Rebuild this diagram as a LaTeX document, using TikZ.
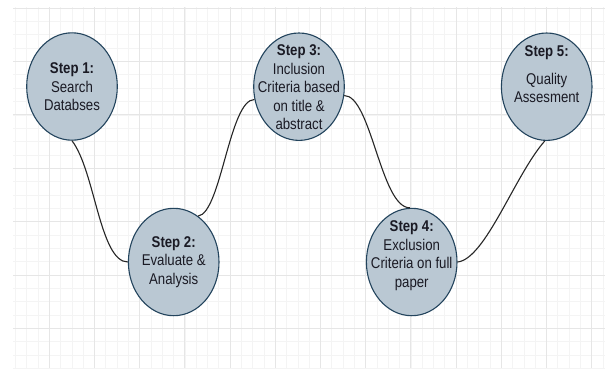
\documentclass[tikz,border=0pt]{standalone}
\usepackage{fontspec}
\setmainfont{Liberation Sans}
\usepackage{graphicx}
\usetikzlibrary{shapes.geometric}
\definecolor{stepfill}{HTML}{BAC8D3}
\definecolor{stepline}{HTML}{23445D}
\definecolor{gridminor}{HTML}{F4F4F4}
\definecolor{gridmajor}{HTML}{E6E6E6}
\definecolor{txtcol}{HTML}{1A1A24}
\newcommand{\vst}[1]{\scalebox{1}[1.18]{\fontsize{13.2}{15.7}\selectfont\begin{tabular}{@{}c@{}}#1\end{tabular}}}
\begin{document}
\begin{tikzpicture}[x=1pt,y=-1pt,
  stepshape/.style={ellipse, draw=stepline, fill=stepfill, line width=1.1pt,
    minimum width=90.6pt, minimum height=107.4pt, inner sep=0pt},
  steptext/.style={inner sep=0pt, text=txtcol, align=center},
  link/.style={draw=black!85, line width=1.1pt},
  minorline/.style={draw=gridminor, line width=0.8pt},
  majorline/.style={draw=gridmajor, line width=0.9pt}]
\useasboundingbox (0,0) rectangle (605,368);
\fill[white] (0,0) rectangle (605,368);
% grid
\begin{scope}
\clip (13,7) rectangle (605,368);
\foreach \k in {0,...,53} { \draw[minorline] ({4.1+11.3*\k},7) -- ({4.1+11.3*\k},368); }
\foreach \k in {0,...,27} { \draw[minorline] (13,{8.1+13.35*\k}) -- (605,{8.1+13.35*\k}); }
\foreach \k in {0,...,13} { \draw[majorline] ({4.1+45.2*\k},7) -- ({4.1+45.2*\k},368); }
\foreach \k in {0,...,6} { \draw[majorline] (13,{8.1+53.4*\k}) -- (605,{8.1+53.4*\k}); }
\end{scope}
% steps
\node[stepshape] (s1) at (72,86.5) {};
\node[stepshape] (s2) at (173.7,262) {};
\node[stepshape] (s3) at (299,86.7) {};
\node[stepshape] (s4) at (411.7,262) {};
\node[stepshape] (s5) at (546.7,86.7) {};
% connectors
\draw[link] (s1.south) .. controls +(23,30) and +(-28,0) .. (s2.west);
\draw[link] (s2.62) .. controls +(23,-3) and +(-25,0) .. (s3.196);
\draw[link] (s3.-11) .. controls +(27,0) and +(-29,0) .. (s4.92);
\draw[link] (s4.east) .. controls +(28,-3) and +(-30,34) .. (s5.-92);
% texts
\node[steptext, yshift=-2pt] (t1) at (s1.center) {\vst{\textbf{Step 1:}\\Search\\Databses}};
\node[steptext] (t2) at (s2.center) {\vst{\textbf{Step 2:}\\Evaluate \&\\Analysis}};
\node[steptext, yshift=-2.5pt] (t3) at (s3.center) {\vst{\textbf{Step 3:}\\Inclusion\\Criteria based\\on title \&\\abstract}};
\node[steptext, yshift=6pt] (t4) at (s4.center) {\vst{\textbf{Step 4:}\\Exclusion\\Criteria on full\\paper}};
\node[steptext, yshift=11pt] (t5) at (s5.center) {\vst{\textbf{Step 5:}\\[7.8pt]Quality\\Assesment}};
\end{tikzpicture}
\end{document}
